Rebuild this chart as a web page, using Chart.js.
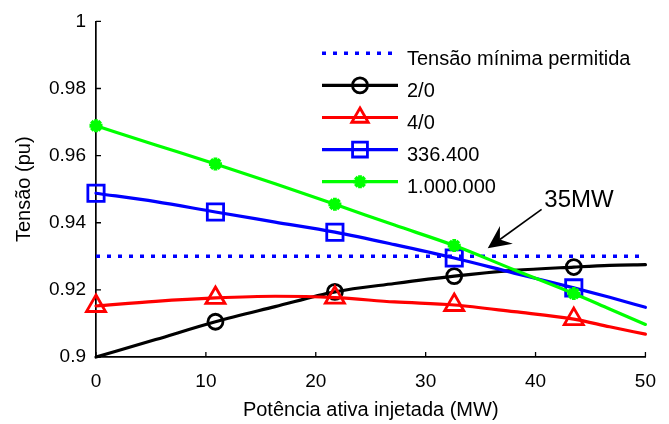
<!DOCTYPE html>
<html><head><meta charset="utf-8">
<script src="https://cdn.jsdelivr.net/npm/chart.js@4/dist/chart.umd.min.js"></script>
<style>html,body{margin:0;padding:0;background:#fff;} #wrap{width:669px;height:424px;}</style>
</head><body><div id="wrap"><canvas id="c" width="669" height="424"></canvas></div>
<script>
// ---- data ----
const xValues = [0, 5.43, 10.87, 16.3, 21.74, 27.17, 32.6, 38.04, 43.48, 46.74, 50];
const markerIdx = [0, 2, 4, 6, 8];
const markerIdx20 = [2, 4, 6, 8];
const serie20   = [0.9, 0.9052, 0.9105, 0.9150, 0.9194, 0.9219, 0.9241, 0.9258, 0.9268, 0.9273, 0.9275];
const serie40   = [0.9152, 0.9166, 0.9176, 0.9181, 0.9177, 0.9164, 0.9155, 0.9135, 0.9113, 0.9090, 0.9068];
const serie336  = [0.9488, 0.9463, 0.9432, 0.9402, 0.9372, 0.9335, 0.9295, 0.9250, 0.9206, 0.9178, 0.9148];
const serie1000 = [0.9689, 0.9632, 0.9575, 0.9516, 0.9455, 0.9393, 0.9332, 0.9260, 0.9189, 0.9143, 0.9097];
const limitX = [0, 50];
const limitY = [0.93, 0.93];
const seriesNames = ['Tensão mínima permitida', '2/0', '4/0', '336.400', '1.000.000'];
const xTicks = [0, 10, 20, 30, 40, 50];
const xTickLabels = ['0', '10', '20', '30', '40', '50'];
const yTicks = [0.9, 0.92, 0.94, 0.96, 0.98, 1];
const yTickLabels = ['0.9', '0.92', '0.94', '0.96', '0.98', '1'];
const xTitle = 'Potência ativa injetada (MW)';
const yTitle = 'Tensão (pu)';
const annotText = '35MW';
const arrowTail = [40.55, 0.9440];
const arrowTip = [35.65, 0.9324];
const annotPos = [40.8, 0.9446];

// ---- styles ----
const FONT = "'Liberation Sans', Arial, Helvetica, sans-serif";
const styles = [
  {color:'#0000ff', marker:null, r:0, dash:[4,7], lw:3.6, mlw:0},
  {color:'#000000', marker:'circle', r:7.5, lw:3.2, mlw:2.8},
  {color:'#ff0000', marker:'triangle', r:11, lw:3.2, mlw:2.8},
  {color:'#0000ff', marker:'rect', r:11.5, lw:3.2, mlw:2.8},
  {color:'#00ff00', marker:'star', r:6.5, lw:3.2, mlw:3.8}
];

function pts(xs, ys){ return xs.map((x,i)=>({x:x, y:ys[i]})); }
function mk(name, xs, ys, st, order, mIdx){
  const rad = (c)=> (st.marker && mIdx.includes(c.dataIndex)) ? st.r : 0;
  return {
    label:name, data:pts(xs, ys), borderColor:st.color, borderWidth:st.lw,
    borderDash: st.dash || [], borderCapStyle: st.dash ? 'butt' : 'round',
    borderJoinStyle:'round', fill:false, order:order, clip:false,
    cubicInterpolationMode: st.marker ? 'monotone' : 'default', tension:0,
    pointStyle: st.marker || 'circle',
    pointRadius: rad, pointHoverRadius: rad,
    pointBorderColor: st.color, pointBackgroundColor:'rgba(0,0,0,0)',
    pointBorderWidth: st.mlw
  };
}

const datasets = [
  mk(seriesNames[0], limitX, limitY, styles[0], 4, []),
  mk(seriesNames[1], xValues, serie20, styles[1], 3, markerIdx20),
  mk(seriesNames[2], xValues, serie40, styles[2], 2, markerIdx),
  mk(seriesNames[3], xValues, serie336, styles[3], 1, markerIdx),
  mk(seriesNames[4], xValues, serie1000, styles[4], 0, markerIdx)
];

function drawMarker(ctx, style, x, y, r, color, lw){
  ctx.save();
  ctx.strokeStyle = color; ctx.lineWidth = lw; ctx.setLineDash([]);
  ctx.beginPath();
  if (style === 'circle') { ctx.arc(x, y, r, 0, Math.PI*2); }
  else if (style === 'triangle') {
    const a = 2*Math.PI/3;
    ctx.moveTo(x, y - r);
    ctx.lineTo(x + Math.sin(a)*r, y - Math.cos(a)*r);
    ctx.lineTo(x + Math.sin(2*a)*r, y - Math.cos(2*a)*r);
    ctx.closePath();
  } else if (style === 'rect') {
    const s = Math.SQRT1_2*r; ctx.rect(x - s, y - s, 2*s, 2*s);
  } else if (style === 'star') {
    for (let k=0;k<4;k++){ const t = k*Math.PI/4; ctx.moveTo(x - Math.cos(t)*r, y - Math.sin(t)*r); ctx.lineTo(x + Math.cos(t)*r, y + Math.sin(t)*r); }
  }
  ctx.stroke();
  ctx.restore();
}

const tickMarks = {
  id:'tickMarks',
  beforeDatasetsDraw(chart){
    const {ctx, chartArea:a, scales:{x, y}} = chart;
    ctx.save(); ctx.strokeStyle = '#000'; ctx.lineWidth = 1.3; ctx.beginPath();
    xTicks.forEach(v=>{ const px = x.getPixelForValue(v); ctx.moveTo(px, a.bottom); ctx.lineTo(px, a.bottom - 5); });
    yTicks.forEach(v=>{ const py = y.getPixelForValue(v); ctx.moveTo(a.left, py); ctx.lineTo(a.left + 5, py); });
    ctx.stroke(); ctx.restore();
  }
};

const annot = {
  id:'annot',
  afterDatasetsDraw(chart){
    const {ctx, scales:{x, y}} = chart;
    const tx = x.getPixelForValue(arrowTail[0]), ty = y.getPixelForValue(arrowTail[1]);
    const hx = x.getPixelForValue(arrowTip[0]), hy = y.getPixelForValue(arrowTip[1]);
    const dx = hx - tx, dy = hy - ty, L = Math.hypot(dx, dy);
    const ux = dx/L, uy = dy/L, px = -uy, py = ux;
    const hl = 23, hw = 11, notch = 15;
    ctx.save();
    ctx.strokeStyle = '#000'; ctx.fillStyle = '#000'; ctx.lineWidth = 1.6;
    ctx.beginPath(); ctx.moveTo(tx, ty); ctx.lineTo(hx - ux*notch, hy - uy*notch); ctx.stroke();
    ctx.beginPath();
    ctx.moveTo(hx, hy);
    ctx.lineTo(hx - ux*hl + px*hw, hy - uy*hl + py*hw);
    ctx.lineTo(hx - ux*notch, hy - uy*notch);
    ctx.lineTo(hx - ux*hl - px*hw, hy - uy*hl - py*hw);
    ctx.closePath(); ctx.fill();
    ctx.font = '24px ' + FONT; ctx.textBaseline = 'alphabetic'; ctx.textAlign = 'left';
    ctx.fillText(annotText, x.getPixelForValue(annotPos[0]), y.getPixelForValue(annotPos[1]));
    ctx.restore();
  }
};

const legendBox = {
  id:'legendBox',
  afterDraw(chart){
    const ctx = chart.ctx;
    const x0 = 322, x1 = 398, top = 53.3, step = 32.1;
    ctx.save();
    seriesNames.forEach((name, i)=>{
      const st = styles[i]; const yy = top + i*step;
      ctx.strokeStyle = st.color; ctx.lineWidth = st.lw;
      ctx.setLineDash(st.dash || []); ctx.lineCap = 'butt';
      ctx.beginPath(); ctx.moveTo(x0, yy); ctx.lineTo(x1, yy); ctx.stroke();
      ctx.setLineDash([]);
      if (st.marker) drawMarker(ctx, st.marker, (x0 + x1)/2, yy, st.marker === 'triangle' ? 9.5 : (st.marker === 'rect' ? 10.5 : st.r), st.color, st.mlw);
      ctx.fillStyle = '#000'; ctx.font = '20px ' + FONT; ctx.textBaseline = 'alphabetic'; ctx.textAlign = 'left';
      ctx.fillText(name, 407, yy + 11.7);
    });
    ctx.restore();
  }
};

new Chart(document.getElementById('c'), {
  type:'line',
  data:{ datasets },
  options:{
    responsive:false, animation:false, devicePixelRatio:1,
    layout:{ padding:{ left:0, right:13, top:20, bottom:0 } },
    plugins:{ legend:{ display:false }, tooltip:{ enabled:false } },
    events:[],
    scales:{
      x:{
        type:'linear', min:0, max:50,
        afterFit(s){ s.height = 67; },
        afterBuildTicks(s){ s.ticks = xTicks.map(v=>({value:v})); },
        ticks:{ callback:(v,i)=>xTickLabels[i], font:{family:FONT, size:19}, color:'#000', padding:13, maxRotation:0, autoSkip:false },
        grid:{ color:'rgba(0,0,0,0)', drawTicks:false },
        border:{ color:'#000', width:1.7 },
        title:{ display:true, text:xTitle, font:{family:FONT, size:20}, color:'#000', padding:{top:0, bottom:2} }
      },
      y:{
        type:'linear', min:0.9, max:1,
        afterFit(s){ s.width = 96; },
        afterBuildTicks(s){ s.ticks = yTicks.map(v=>({value:v})); },
        ticks:{ callback:(v,i)=>yTickLabels[i], font:{family:FONT, size:19}, color:'#000', padding:10, autoSkip:false },
        grid:{ color:'rgba(0,0,0,0)', drawTicks:false },
        border:{ color:'#000', width:1.7 },
        title:{ display:true, text:yTitle, font:{family:FONT, size:20}, color:'#000', padding:{top:12, bottom:0} }
      }
    }
  },
  plugins:[tickMarks, annot, legendBox]
});
</script></body></html>
